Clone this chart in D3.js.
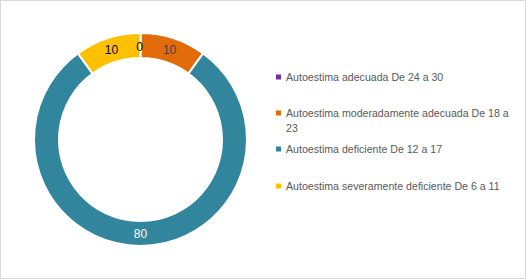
<!DOCTYPE html>
<html>
<head>
<meta charset="utf-8">
<script src="https://cdn.jsdelivr.net/npm/d3@7"></script>
<style>
  body { margin: 0; background: #fff; }
  svg { display: block; font-family: "Liberation Sans", Arial, sans-serif; }
</style>
</head>
<body>
<svg id="chart" width="526" height="279"></svg>
<script>
const categories = [
  "Autoestima adecuada De 24 a 30",
  "Autoestima moderadamente adecuada De 18 a 23",
  "Autoestima deficiente De 12 a 17",
  "Autoestima severamente deficiente De 6 a 11"
];
const values = [0, 10, 80, 10];
const colors = ["#7030a0", "#e36c0a", "#31859c", "#ffc000"];
const labelColors = ["#000000", "#404040", "#ffffff", "#000000"];

const svg = d3.select("#chart");
const width = +svg.attr("width");
const height = +svg.attr("height");

svg.append("rect")
  .attr("x", 0.5).attr("y", 0.5)
  .attr("width", width - 1).attr("height", height - 1)
  .attr("fill", "#fff").attr("stroke", "#d9d9d9");

const cx = 140.5, cy = 139.5;
const outerR = 106.5, innerR = 81.5;

const pie = d3.pie().sort(null).value(d => d);
const arcs = pie(values);
const arc = d3.arc().innerRadius(innerR).outerRadius(outerR);
const labelArc = d3.arc().innerRadius((innerR + outerR) / 2).outerRadius((innerR + outerR) / 2);

const g = svg.append("g").attr("transform", `translate(${cx},${cy})`);

g.selectAll("path.slice")
  .data(arcs)
  .join("path")
  .attr("class", "slice")
  .attr("d", arc)
  .attr("fill", (d, i) => colors[i])
  .attr("stroke", "#fff")
  .attr("stroke-width", 2);

g.selectAll("text.lbl")
  .data(arcs)
  .join("text")
  .attr("class", "lbl")
  .attr("transform", (d, i) => {
    const [x, y] = labelArc.centroid(d);
    // the zero slice label sits a little off the start line
    return i === 0 ? `translate(${x - 1},${y + 1})` : `translate(${x},${y})`;
  })
  .attr("text-anchor", "middle")
  .attr("dy", "0.35em")
  .attr("font-size", 12)
  .attr("fill", (d, i) => labelColors[i])
  .text(d => d.data);

// legend
const legendX = 276;
const rowY = [77, 113, 149, 186];
const legend = svg.append("g");

categories.forEach((name, i) => {
  const row = legend.append("g").attr("transform", `translate(${legendX},${rowY[i]})`);
  row.append("rect")
    .attr("x", 0).attr("y", -2.5)
    .attr("width", 5).attr("height", 5)
    .attr("fill", colors[i]);
  const t = row.append("text")
    .attr("x", 10)
    .attr("dy", "0.35em")
    .attr("font-size", 10.6)
    .attr("fill", "#595959");
  if (i === 1) {
    t.append("tspan").attr("x", 10).text("Autoestima moderadamente adecuada De 18 a");
    t.append("tspan").attr("x", 10).attr("dy", 15).text("23");
  } else {
    t.text(name);
  }
});
</script>
</body>
</html>
